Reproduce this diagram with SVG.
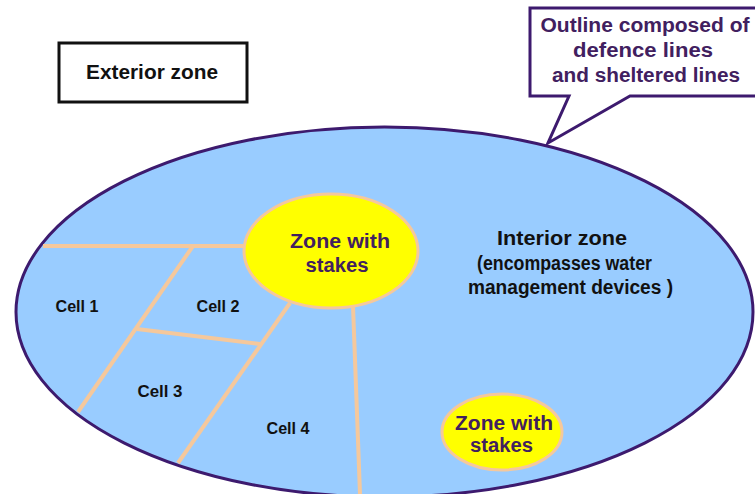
<svg xmlns="http://www.w3.org/2000/svg" width="755" height="494" viewBox="0 0 755 494">
<style>
text{font-family:"Liberation Sans",Arial,sans-serif;font-weight:bold;text-anchor:middle}
.dark{fill:#111}
.purple{fill:#41205f}
.cell{font-size:16px}
.big{font-size:19.5px}
.stake{fill:#ffff00;stroke:#f5c89c;stroke-width:3}
.div{stroke:#f5c89c;stroke-width:4;fill:none;stroke-linecap:butt}
</style>
<rect width="755" height="494" fill="#ffffff"/>
<g id="interior">
<ellipse cx="384.5" cy="312" rx="368.5" ry="185" fill="#99ccff" stroke="#3d1a6e" stroke-width="3"/>
<text class="dark big" x="562" y="245" textLength="130" lengthAdjust="spacingAndGlyphs">Interior zone</text>
<text class="dark big" x="564.5" y="270" textLength="175" lengthAdjust="spacingAndGlyphs">(encompasses water</text>
<text class="dark big" x="570.5" y="294" textLength="205" lengthAdjust="spacingAndGlyphs">management devices )</text>
</g>
<g id="connectors">
<line class="div" x1="43" y1="246" x2="247" y2="246"/>
<line class="div" x1="193" y1="246" x2="78" y2="412"/>
<line class="div" x1="137" y1="329" x2="260" y2="344"/>
<line class="div" x1="290" y1="303" x2="178" y2="463"/>
<line class="div" x1="353" y1="306" x2="360" y2="494"/>
</g>
<g id="cell1"><text class="dark cell" x="77" y="312" textLength="43" lengthAdjust="spacingAndGlyphs">Cell 1</text></g>
<g id="cell2"><text class="dark cell" x="218" y="312" textLength="43" lengthAdjust="spacingAndGlyphs">Cell 2</text></g>
<g id="cell3"><text class="dark cell" x="160" y="397" textLength="45" lengthAdjust="spacingAndGlyphs">Cell 3</text></g>
<g id="cell4"><text class="dark cell" x="288" y="434" textLength="43" lengthAdjust="spacingAndGlyphs">Cell 4</text></g>
<g id="stakes1">
<ellipse class="stake" cx="331" cy="251" rx="87" ry="57"/>
<text class="purple big" x="340" y="248" textLength="100" lengthAdjust="spacingAndGlyphs">Zone with</text>
<text class="purple big" x="337" y="272" textLength="63" lengthAdjust="spacingAndGlyphs">stakes</text>
</g>
<g id="stakes2">
<ellipse class="stake" cx="502" cy="432" rx="60" ry="38"/>
<text class="purple big" x="504" y="430" textLength="98" lengthAdjust="spacingAndGlyphs">Zone with</text>
<text class="purple big" x="501.5" y="452" textLength="63" lengthAdjust="spacingAndGlyphs">stakes</text>
</g>
<g id="exterior">
<rect x="59" y="43" width="188" height="59" fill="#ffffff" stroke="#111" stroke-width="3"/>
<text class="dark big" x="152" y="79" textLength="132" lengthAdjust="spacingAndGlyphs">Exterior zone</text>
</g>
<g id="callout">
<path d="M530,8 H762 V96 H630 L548,143 L569,96 H530 Z" fill="#ffffff" stroke="#3d1a6e" stroke-width="3" stroke-linejoin="miter"/>
<text class="purple big" x="645" y="32" textLength="209" lengthAdjust="spacingAndGlyphs">Outline composed of</text>
<text class="purple big" x="643" y="57" textLength="140" lengthAdjust="spacingAndGlyphs">defence lines</text>
<text class="purple big" x="646" y="82" textLength="188" lengthAdjust="spacingAndGlyphs">and sheltered lines</text>
</g>
</svg>
